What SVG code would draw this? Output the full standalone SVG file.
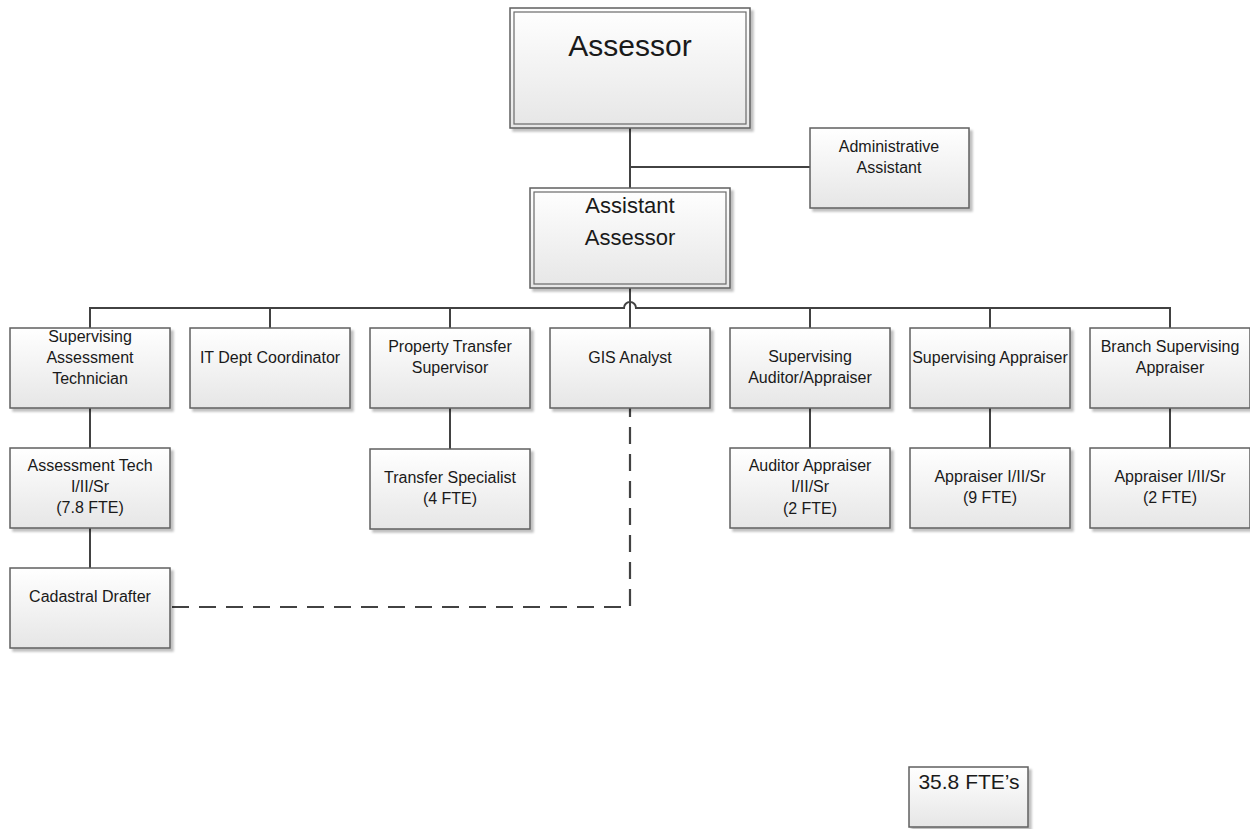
<svg xmlns="http://www.w3.org/2000/svg" width="1250" height="829" viewBox="0 0 1250 829">
<defs>
<linearGradient id="g" x1="0" y1="0" x2="0" y2="1">
<stop offset="0" stop-color="#ffffff"/>
<stop offset="1" stop-color="#e6e6e6"/>
</linearGradient>
<filter id="sh" x="-10%" y="-10%" width="130%" height="130%">
<feGaussianBlur in="SourceAlpha" stdDeviation="1.2"/>
<feOffset dx="3" dy="3" result="b"/>
<feComponentTransfer><feFuncA type="linear" slope="0.25"/></feComponentTransfer>
<feMerge><feMergeNode/><feMergeNode in="SourceGraphic"/></feMerge>
</filter>
</defs>
<style>
.box{fill:url(#g);stroke:#5f5f5f;stroke-width:1.5;filter:url(#sh)}
.inner{fill:none;stroke:#6a6a6a;stroke-width:1.2}
.t{font-family:"Liberation Sans",Arial,sans-serif;font-size:16px;fill:#1a1a1a;text-anchor:middle}
.ln{fill:none;stroke:#424242;stroke-width:2}
.dash{fill:none;stroke:#424242;stroke-width:2.2;stroke-dasharray:17 10}
</style>
<rect width="1250" height="829" fill="#ffffff"/>
<g id="connectors">
<path class="ln" d="M630,128 V188"/>
<path class="ln" d="M630,167 H810"/>
<path class="ln" d="M630,288 V328"/>
<path class="ln" d="M90,328 V308 H624 A6,6 0 0 1 636,308 H1170 V328"/>
<path class="ln" d="M270,308 V328 M450,308 V328 M810,308 V328 M990,308 V328"/>
<path class="ln" d="M90,408 V448 M90,528 V568 M450,408 V449 M810,408 V448 M990,408 V448 M1170,408 V448"/>
<path class="dash" d="M172,607 H630 V408"/>
</g>
<g id="assessor">
<rect class="box" x="510" y="8" width="240" height="120"/>
<rect class="inner" x="514" y="12" width="232" height="112"/>
<text class="t" x="630" y="56" style="font-size:30px">Assessor</text>
</g>
<g id="admin-assistant">
<rect class="box" x="810" y="128" width="159" height="80"/>
<text class="t" x="889" y="152">Administrative</text>
<text class="t" x="889" y="173">Assistant</text>
</g>
<g id="assistant-assessor">
<rect class="box" x="530" y="188" width="200" height="100"/>
<rect class="inner" x="534" y="192" width="192" height="92"/>
<text class="t" x="630" y="213" style="font-size:22px">Assistant</text>
<text class="t" x="630" y="245" style="font-size:22px">Assessor</text>
</g>
<g id="sup-assess-tech">
<rect class="box" x="10" y="328" width="160" height="80"/>
<text class="t" x="90" y="342">Supervising</text>
<text class="t" x="90" y="363">Assessment</text>
<text class="t" x="90" y="384">Technician</text>
</g>
<g id="it-dept">
<rect class="box" x="190" y="328" width="160" height="80"/>
<text class="t" x="270" y="363">IT Dept Coordinator</text>
</g>
<g id="prop-transfer-sup">
<rect class="box" x="370" y="328" width="160" height="80"/>
<text class="t" x="450" y="352">Property Transfer</text>
<text class="t" x="450" y="373">Supervisor</text>
</g>
<g id="gis-analyst">
<rect class="box" x="550" y="328" width="160" height="80"/>
<text class="t" x="630" y="363">GIS Analyst</text>
</g>
<g id="sup-auditor">
<rect class="box" x="730" y="328" width="160" height="80"/>
<text class="t" x="810" y="362">Supervising</text>
<text class="t" x="810" y="383">Auditor/Appraiser</text>
</g>
<g id="sup-appraiser">
<rect class="box" x="910" y="328" width="160" height="80"/>
<text class="t" x="990" y="363">Supervising Appraiser</text>
</g>
<g id="branch-sup-appraiser">
<rect class="box" x="1090" y="328" width="160" height="80" style="stroke-width:1.5"/>
<text class="t" x="1170" y="352">Branch Supervising</text>
<text class="t" x="1170" y="373">Appraiser</text>
</g>
<g id="assess-tech">
<rect class="box" x="10" y="448" width="160" height="80"/>
<text class="t" x="90" y="471">Assessment Tech</text>
<text class="t" x="90" y="492">I/II/Sr</text>
<text class="t" x="90" y="513">(7.8 FTE)</text>
</g>
<g id="transfer-specialist">
<rect class="box" x="370" y="449" width="160" height="80"/>
<text class="t" x="450" y="483">Transfer Specialist</text>
<text class="t" x="450" y="504">(4 FTE)</text>
</g>
<g id="auditor-appraiser">
<rect class="box" x="730" y="448" width="160" height="80"/>
<text class="t" x="810" y="471">Auditor Appraiser</text>
<text class="t" x="810" y="492">I/II/Sr</text>
<text class="t" x="810" y="514">(2 FTE)</text>
</g>
<g id="appraiser-9">
<rect class="box" x="910" y="448" width="160" height="80"/>
<text class="t" x="990" y="482">Appraiser I/II/Sr</text>
<text class="t" x="990" y="503">(9 FTE)</text>
</g>
<g id="appraiser-2">
<rect class="box" x="1090" y="448" width="160" height="80"/>
<text class="t" x="1170" y="482">Appraiser I/II/Sr</text>
<text class="t" x="1170" y="503">(2 FTE)</text>
</g>
<g id="cadastral-drafter">
<rect class="box" x="10" y="568" width="160" height="80"/>
<text class="t" x="90" y="602">Cadastral Drafter</text>
</g>
<g id="fte-total">
<rect class="box" x="909" y="767" width="119" height="60"/>
<text class="t" x="969" y="789" style="font-size:21px">35.8 FTE’s</text>
</g>
</svg>
